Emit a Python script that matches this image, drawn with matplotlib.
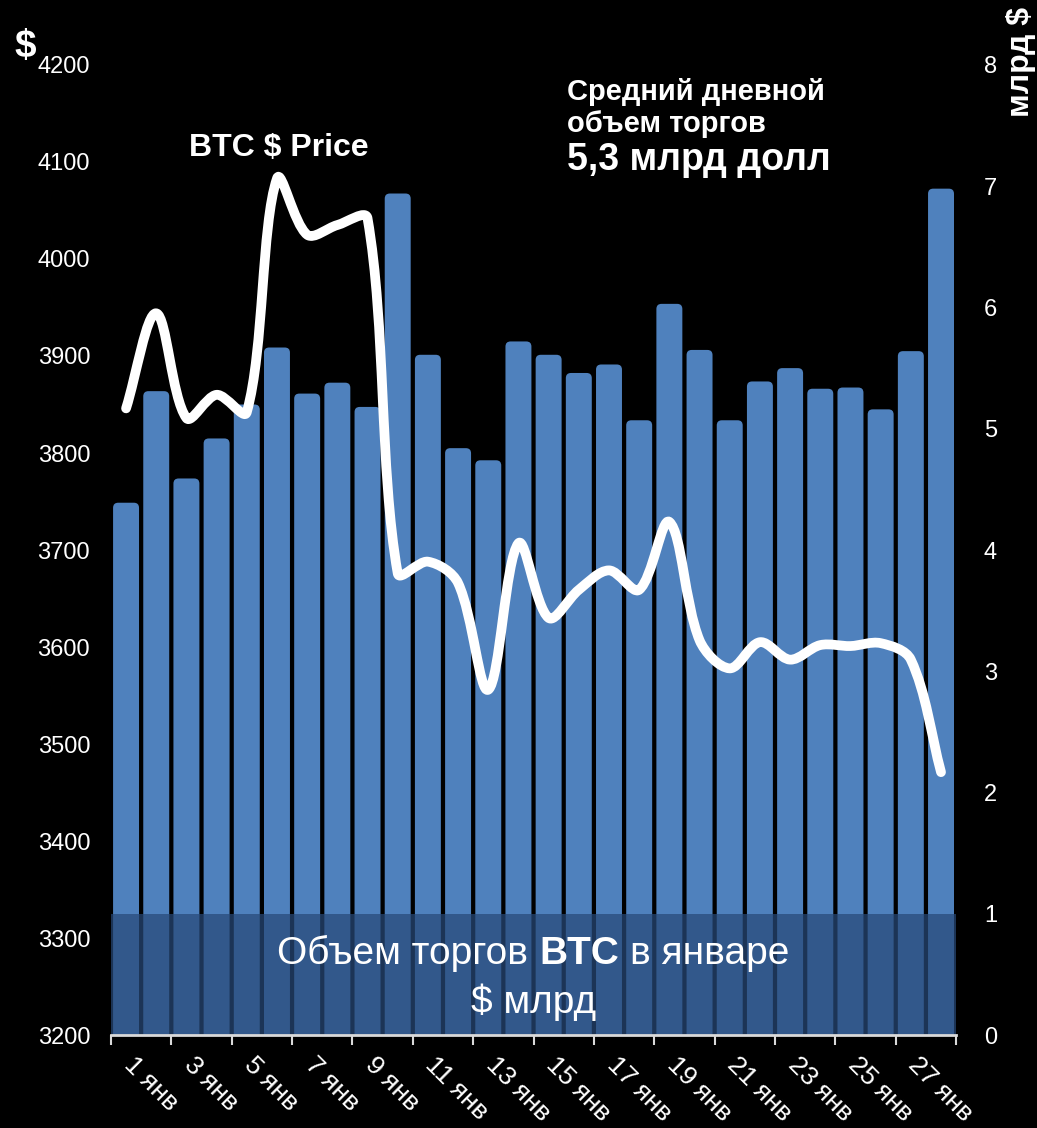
import numpy as np
import matplotlib.pyplot as plt
from matplotlib.path import Path
from matplotlib.patches import PathPatch, FancyBboxPatch
from matplotlib.offsetbox import TextArea, HPacker, VPacker, AnnotationBbox
from matplotlib.transforms import ScaledTranslation

plt.rcParams['font.family'] = ['Liberation Sans', 'DejaVu Sans']

# Days of January, trading volume ($ bn) and BTC price ($)
days = [f'{d} янв' for d in range(1, 29)]
volume = [4.39, 5.31, 4.59, 4.92, 5.20, 5.67, 5.29, 5.38, 5.18, 6.94,
          5.61, 4.84, 4.74, 5.72, 5.61, 5.46, 5.53, 5.07, 6.03, 5.65,
          5.07, 5.39, 5.50, 5.33, 5.34, 5.16, 5.64, 6.98]
price = [3846, 3944, 3836, 3860, 3842, 4083, 4025, 4035, 4042, 3676,
         3688, 3666, 3556, 3707, 3630, 3659, 3679, 3659, 3729, 3607,
         3578, 3605, 3587, 3602, 3601, 3604, 3587, 3471]

bar_color = '#4f81bd'
band_color = '#274978'

fig = plt.figure(figsize=(10.37, 11.28), dpi=100, facecolor='black')
ax = fig.add_axes([0.107, 0.0824, 0.815, 0.86])
ax2 = ax.twinx()
for a in (ax, ax2):
    a.set_facecolor('black')
    for s in a.spines.values():
        s.set_visible(False)

x = np.arange(len(days))

# pixel size of one data unit, used for rounded corners and smoothing
px_x = 0.815 * 1037 / len(days)
px_v = 0.86 * 1128 / 8
px_p = 0.86 * 1128 / 1000

# volume bars on the right axis, with rounded tops
bars = ax2.bar(x, volume, width=0.86, color=bar_color, zorder=2)
r = 0.17
for b in bars:
    bx, by = b.get_x(), b.get_y()
    bw, bh = b.get_width(), b.get_height()
    b.set_visible(False)
    ax2.add_patch(FancyBboxPatch((bx, by - 0.3), bw, bh + 0.3,
                                 boxstyle=f'round,pad=0,rounding_size={r}',
                                 mutation_aspect=px_x / px_v, facecolor=bar_color,
                                 edgecolor='none', zorder=2))
ax2.set_ylim(0, 8)
ax2.set_yticks(range(0, 9))
ax2.tick_params(axis='y', length=0, pad=20, labelsize=17, labelcolor='white')

# dark band at the bottom
ax2.axhspan(0, 1, color=band_color, alpha=0.72, zorder=3, lw=0)

# price line on the left axis, smoothed with Bezier segments
ax.set_zorder(ax2.get_zorder() + 1)
ax.patch.set_visible(False)
pts = np.column_stack([x, price]).astype(float)
ext = np.vstack([pts[0], pts, pts[-1]])
scale = np.array([px_x, px_p])


def dist(a, b):
    return np.hypot(*((b - a) * scale)) + 1e-9


verts = [pts[0]]
codes = [Path.MOVETO]
for i in range(len(pts) - 1):
    p0, p1, p2, p3 = ext[i], ext[i + 1], ext[i + 2], ext[i + 3]
    d01, d12, d23 = dist(p0, p1), dist(p1, p2), dist(p2, p3)
    c1 = p1 + (p2 - p0) * d12 / (d01 + d12) / 3
    c2 = p2 - (p3 - p1) * d12 / (d12 + d23) / 3
    verts += [c1, c2, p2]
    codes += [Path.CURVE4] * 3
ax.add_patch(PathPatch(Path(verts, codes), facecolor='none', edgecolor='white',
                       lw=7, capstyle='round', joinstyle='round', zorder=5))
ax.set_ylim(3200, 4200)
ax.set_yticks(range(3200, 4201, 100))
ax.tick_params(axis='y', length=0, pad=15, labelsize=17, labelcolor='white')

# x axis: ticks between every second day, rotated labels under odd days
ax.set_xlim(-0.5, len(days) - 0.5)
ax.set_xticks(np.arange(-0.5, len(days), 2))
ax.set_xticklabels([])
ax.tick_params(axis='x', which='major', length=7, color='#d9d9d9', width=1.5)
ax.spines['bottom'].set_visible(True)
ax.spines['bottom'].set_color('#d9d9d9')
ax.spines['bottom'].set_linewidth(2)
lab_tr = ax.get_xaxis_transform() + ScaledTranslation(0.10, -0.18, fig.dpi_scale_trans)
for xi, d in zip(x[::2], days[::2]):
    ax.text(xi, 0, d, transform=lab_tr, rotation=-45, rotation_mode='anchor',
            ha='left', va='top', fontsize=19, color='white', clip_on=False)

# texts
fig.text(0.269, 0.869, 'BTC $ Price', ha='center', va='center',
         fontsize=23, fontweight='bold', color='white')
fig.text(0.547, 0.904, 'Средний дневной\nобъем торгов', ha='left', va='center',
         fontsize=21, fontweight='bold', color='white', linespacing=1.2)
fig.text(0.547, 0.858, '5,3 млрд долл', ha='left', va='center',
         fontsize=27, fontweight='bold', color='white')
fig.text(0.024, 0.958, '$', ha='center', va='center', fontsize=28,
         fontweight='bold', color='white')
fig.text(0.985, 0.994, 'млрд $', ha='center', va='top', rotation=90,
         fontsize=23, fontweight='bold', color='white')

band_font = ['Liberation Sans Narrow', 'Liberation Sans', 'DejaVu Sans']
tp = dict(color='white', fontsize=28, family=band_font)
line1 = HPacker(children=[TextArea('Объем торгов', textprops=tp),
                          TextArea('BTC', textprops=dict(tp, fontweight='bold')),
                          TextArea('в январе', textprops=tp)],
                align='baseline', pad=0, sep=8)
line2 = TextArea('$ млрд', textprops=tp)
box = VPacker(children=[line1, line2], align='center', pad=0, sep=8)
ab = AnnotationBbox(box, (0.5, 0.47), xycoords=ax2.get_yaxis_transform(),
                    frameon=False, zorder=6)
ax2.add_artist(ab)

fig.savefig('out.png', dpi=100, facecolor='black')
